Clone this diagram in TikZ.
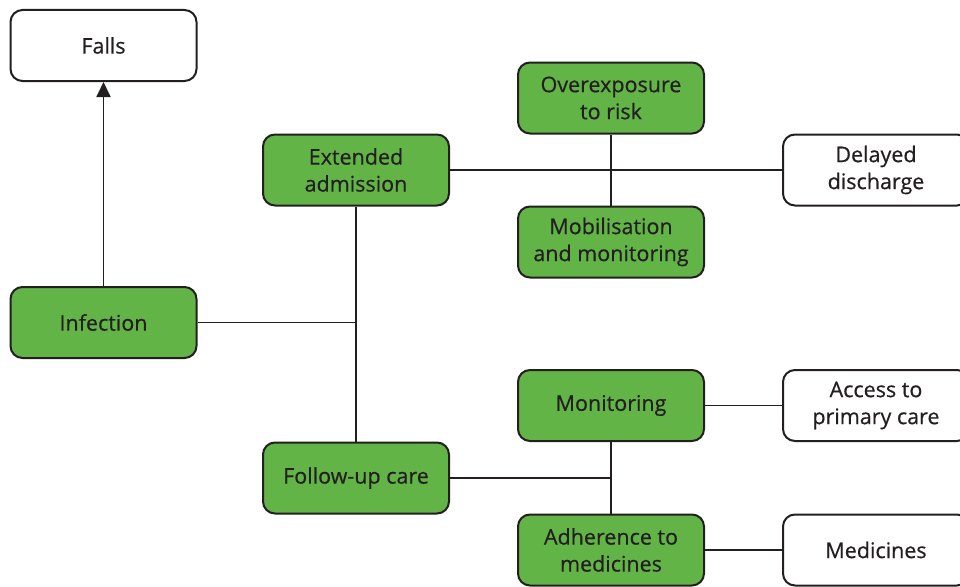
\documentclass[tikz,border=0pt]{standalone}
\usepackage{fontspec}
\newfontfamily\labelfont[FakeBold=0.5]{Open Sans}
\usetikzlibrary{arrows.meta}
\definecolor{boxgreen}{HTML}{62B446}
\definecolor{ink}{HTML}{231F20}
\begin{document}
\begin{tikzpicture}[x=1pt,y=-1pt,
  base/.style={draw=ink, line width=2pt, rounded corners=12pt, minimum width=186pt,
    minimum height=71pt, align=center, font=\labelfont\fontsize{21.5}{27}\selectfont, text=ink,
    inner sep=0pt},
  greenbox/.style={base, fill=boxgreen},
  whitebox/.style={base, fill=white},
  link/.style={draw=ink, line width=1.8pt}]
\useasboundingbox (0,0) rectangle (960,586);
\clip (0,0) rectangle (960,586);

\node[whitebox] (falls) at (103.5,45.5) {Falls};
\node[greenbox] (infect) at (103.5,322.5) {Infection};
\node[greenbox] (extadm) at (356,170) {Extended\\admission};
\node[greenbox] (followup) at (356,478) {Follow-up care};
\node[greenbox] (overexp) at (611,98) {Overexposure\\to risk};
\node[greenbox] (mobil) at (611,242) {Mobilisation\\and monitoring};
\node[greenbox] (monit) at (611,405.5) {Monitoring};
\node[greenbox] (adher) at (611,550) {Adherence to\\medicines};
\node[whitebox] (delay) at (876,170) {Delayed\\discharge};
\node[whitebox] (access) at (876,405.5) {Access to\\primary care};
\node[whitebox] (meds) at (876,550) {Medicines};

\coordinate (hub) at (extadm.south |- infect.east);
\coordinate (fuhub) at (monit.south |- followup.east);

\draw[link, -{Triangle[length=15pt,width=14pt]}] (infect) -- (falls);
\draw[link] (infect) -- (hub);
\draw[link] (extadm) -- (followup);
\draw[link] (extadm) -- (delay);
\draw[link] (overexp) -- (mobil);
\draw[link] (followup) -- (fuhub);
\draw[link] (monit) -- (adher);
\draw[link] (monit) -- (access);
\draw[link] (adher) -- (meds);
\end{tikzpicture}
\end{document}
